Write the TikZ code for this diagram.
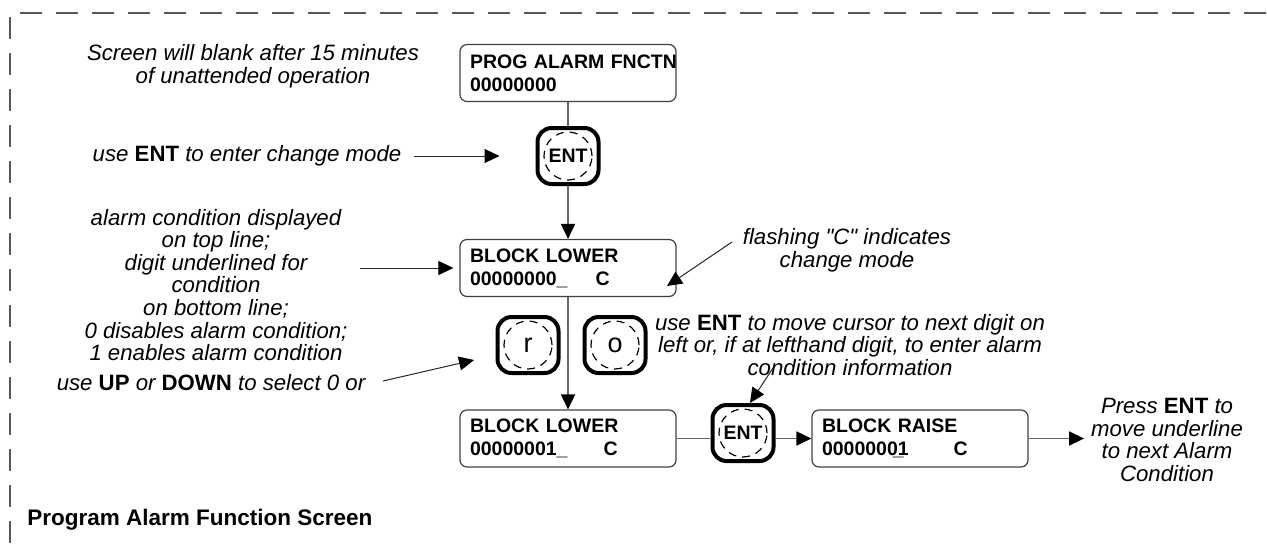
\documentclass[tikz,border=0pt]{standalone}
\usepackage{fontspec}
\setmainfont{Liberation Sans}
\usetikzlibrary{arrows.meta,calc}
\newcommand\plainquote{\XeTeXglyph\XeTeXglyphindex "quotedbl"\relax}

\begin{document}
\begin{tikzpicture}[x=0.5pt,y=-0.5pt,
  every node/.style={font=\fontsize{9.75}{11.4}\selectfont},
  frame/.style={draw=black!65,line width=1pt,dash pattern=on 11pt off 7pt},
  screen/.style={draw=black!75,line width=0.6pt,rounded corners=3.5pt,text width=98pt,inner xsep=5pt,minimum height=28.5pt,align=left,font=\fontsize{9.75}{11.5}\selectfont\bfseries},
  keypad/.style={draw,line width=2pt,rounded corners=7pt,minimum width=30.5pt,minimum height=28pt,inner sep=0pt,
    path picture={\draw[line width=0.6pt,dash pattern=on 4pt off 3pt] (path picture bounding box.center) circle (12pt);}},
  note/.style={align=center,font=\fontsize{11.1}{11.3}\selectfont\itshape},
  link/.style={draw=black!60,line width=0.9pt},
  flow/.style={link,-{Triangle[length=7.5pt,width=7pt,color=black]}},
  pointer/.style={draw=black!85,line width=0.5pt,-{Triangle[length=7.5pt,width=7pt,color=black]}}]
\useasboundingbox (0,0) rectangle (1267,543);
\draw[frame] (10,543) -- (10,13) -- (1267,13);
% screens
\coordinate (S1) at (568,73);
\coordinate (S2) at (568,268);
\coordinate (S3) at (568,438.5);
\coordinate (S4) at (920,438.5);
\node[screen] (prog) at (S1) {\mbox{PROG ALARM FNCTN}\\00000000};
\node[screen] (lower) at (S2) {BLOCK LOWER\\00000000\_\hspace{14pt}C};
\node[screen] (lowerset) at (S3) {BLOCK LOWER\\00000001\_\hspace{18pt}C};
\node[screen] (raise) at (S4) {BLOCK RAISE\\0000000\rlap{\kern-2.5pt\_}1\hspace{22.5pt}C};
% keys
\node[keypad,font=\fontsize{9.75}{11}\selectfont\bfseries] (ent) at (568,156) {ENT};
\node[keypad,font=\fontsize{13.5}{14}\selectfont] (up) at (528,345) {r};
\node[keypad,font=\fontsize{13.5}{14}\selectfont] (down) at (615,345) {o};
\node[keypad,font=\fontsize{9.75}{11}\selectfont\bfseries] (entnext) at (743,433) {ENT};
% notes
\node[note] (blank) at (253,66) {Screen will blank after 15 minutes\\of unattended operation};
\node[note] (entnote) at (247,156) {use \textbf{\upshape ENT} to enter change mode};
\node[note] (condnote) at (216,285) {alarm condition displayed\\on top line;\\digit underlined for\\condition\\on bottom line;\\0 disables alarm condition;\\1 enables alarm condition};
\node[note] (updown) at (211,383) {use \textbf{\upshape UP} or \textbf{\upshape DOWN} to select 0 or};
\node[note] (flash) at (847,250) {flashing \plainquote C\plainquote{} indicates\\change mode};
\node[note] (cursor) at (850,345) {use \textbf{\upshape ENT} to move cursor to next digit on\\left or, if at lefthand digit, to enter alarm\\condition information};
\node[note] (press) at (1167,440) {Press \textbf{\upshape ENT} to\\move underline\\to next Alarm\\Condition};
\node[anchor=west,inner sep=0pt,font=\fontsize{11.25}{13}\selectfont\bfseries] (title) at (27,520) {Program Alarm Function Screen};
% connectors
\draw[link] (prog.south) -- (ent.north);
\draw[flow] (ent.south) -- (lower.north);
\draw[flow] (lower.south) -- (lowerset.north);
\draw[link] (lowerset.east) -- (entnext.west |- lowerset.east);
\draw[flow] (entnext.east |- raise.west) -- (raise.west);
\draw[flow] (raise.east) -- (press.west |- raise.east);
% pointers
\coordinate (upend) at (474,360);
\coordinate (flashend) at (667,286);
\coordinate (cursorstart) at (773,368);
\draw[pointer] ([xshift=3pt]entnote.east) -- ([xshift=-18pt]ent.west);
\draw[pointer] ([xshift=3pt]condnote.east |- lower.west) -- ([xshift=-3pt]lower.west);
\draw[pointer] (383,381) coordinate (upstart) -- (upend);
\draw[pointer] (732,242) coordinate (flashstart) -- (flashend);
\draw[pointer] (cursorstart) -- ([xshift=3.5pt]entnext.north);
\end{tikzpicture}
\end{document}
